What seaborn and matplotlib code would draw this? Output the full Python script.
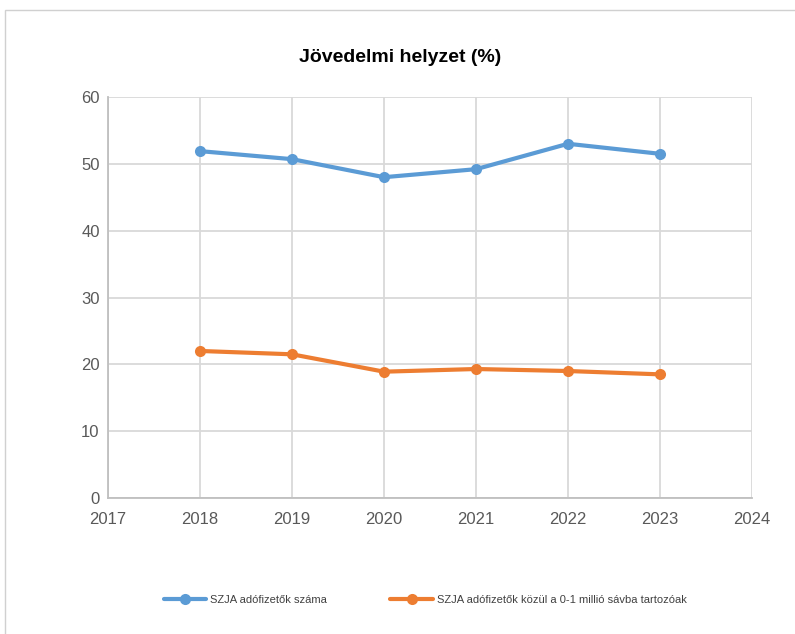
import matplotlib
matplotlib.use("Agg")
import matplotlib.pyplot as plt
import seaborn as sns
import pandas as pd
from matplotlib.patches import Rectangle
from matplotlib.lines import Line2D

years = [2018, 2019, 2020, 2021, 2022, 2023]
szja_count = [51.9, 50.7, 48.0, 49.2, 53.0, 51.5]
szja_low = [22.0, 21.5, 18.9, 19.3, 19.0, 18.5]
series_names = ["SZJA adófizetők száma", "SZJA adófizetők közül a 0-1 millió sávba tartozóak"]
colors = ["#5B9BD5", "#ED7D31"]

sns.set_theme(style="white")
plt.rcParams['font.family'] = ['Liberation Sans', 'DejaVu Sans']

df = pd.DataFrame({
    "year": years * 2,
    "value": szja_count + szja_low,
    "series": [series_names[0]] * len(years) + [series_names[1]] * len(years),
})

fig = plt.figure(figsize=(7.95, 6.34), dpi=100)
ax = fig.add_axes([108/795, 1-498/634, (752-108)/795, (498-97)/634])

sns.lineplot(data=df, x="year", y="value", hue="series", palette=colors,
             marker="o", markersize=8, linewidth=3, markeredgewidth=0,
             ax=ax, legend=False)

ax.set_xlim(2017, 2024)
ax.set_ylim(0, 60)
ax.set_xticks(range(2017, 2025))
ax.set_yticks(range(0, 61, 10))
ax.grid(True, color="#D9D9D9", linewidth=1.3)
ax.set_axisbelow(True)
for s in ["top", "right"]:
    ax.spines[s].set_visible(False)
for s in ["left", "bottom"]:
    ax.spines[s].set_color("#BFBFBF")
    ax.spines[s].set_linewidth(1.3)
ax.tick_params(axis="both", length=0, labelsize=12, labelcolor="#595959")
ax.tick_params(axis="x", pad=10)
ax.tick_params(axis="y", pad=6)
ax.set_xlabel("")
ax.set_ylabel("")

fig.text(0.503, 1-57/634, "Jövedelmi helyzet (%)", ha="center", va="center",
         fontsize=14, fontweight="bold", color="#000000")

handles = [Line2D([0], [0], color=c, linewidth=3, marker="o", markersize=8, markeredgewidth=0)
           for c in colors]
fig.legend(handles, series_names, loc="center", bbox_to_anchor=(0.535, 1-600/634),
           ncol=2, frameon=False, fontsize=8, labelcolor="#404040",
           handlelength=3.8, columnspacing=5.7, handletextpad=0.4)

fig.patches.append(Rectangle((5/795, -0.1), 1.2, 1-10/634+0.1, transform=fig.transFigure,
                             fill=False, edgecolor="#D0D0D0", linewidth=1))

fig.savefig("out.png", dpi=100)
